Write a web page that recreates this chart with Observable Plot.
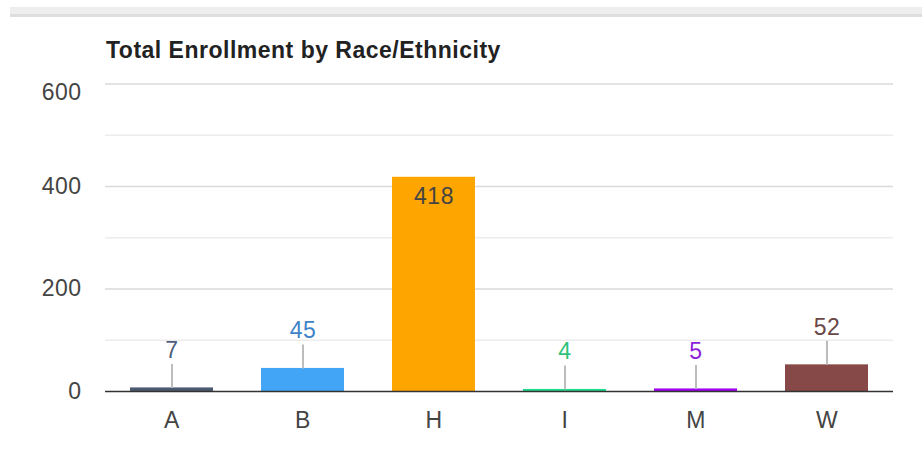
<!DOCTYPE html>
<html>
<head>
<meta charset="utf-8">
<script src="https://cdn.jsdelivr.net/npm/d3@7"></script>
<script src="https://cdn.jsdelivr.net/npm/@observablehq/plot@0.6"></script>
<style>
  html, body { margin: 0; padding: 0; background: #fff; }
  #wrap { position: relative; width: 922px; height: 450px; overflow: hidden; font-family: "Liberation Sans", Arial, sans-serif; }
  #band { position: absolute; left: 10px; top: 7px; right: 0; height: 10px; background: linear-gradient(#eeeeee 0 70%, #dedede 70% 100%); }
  #title { position: absolute; left: 106px; top: 37px; font-size: 23px; letter-spacing: 0.5px; font-weight: bold; color: #222; white-space: nowrap; line-height: 26px; }
</style>
</head>
<body>
<div id="wrap">
  <div id="band"></div>
  <div id="chart"></div>
  <div id="title">Total Enrollment by Race/Ethnicity</div>
</div>
<script>
const categories = ["A", "B", "H", "I", "M", "W"];
const values = [7, 45, 418, 4, 5, 52];
const barColors = ["#4b5a70", "#42a5f5", "#ffa500", "#1fdc8c", "#a100f2", "#874848"];
const labelColors = ["#4f5f7d", "#3f84c8", "#444444", "#2ec27a", "#8e1ed8", "#6a4646"];
const majorTicks = [0, 200, 400, 600];
const minorTicks = [100, 300, 500];

const data = categories.map((c, i) => ({cat: c, value: values[i], bar: barColors[i], label: labelColors[i]}));
const outside = data.filter(d => d.value < 400);
const inside = data.filter(d => d.value >= 400);

const stem = {
  draw(context) {
    context.moveTo(0, 0);
    context.lineTo(0, -24);
  }
};

const chart = Plot.plot({
  width: 922,
  height: 450,
  marginLeft: 105,
  marginRight: 29,
  marginTop: 83.5,
  marginBottom: 59,
  style: {fontFamily: "'Liberation Sans', Arial, sans-serif", fontSize: "23px", letterSpacing: "0.5px", background: "transparent"},
  x: {domain: categories, paddingInner: 0.368, paddingOuter: 0.184, label: null},
  y: {domain: [0, 600], label: null},
  color: {type: "identity"},
  marks: [
    Plot.ruleY(minorTicks, {stroke: "#ececec", strokeWidth: 1.5}),
    Plot.ruleY(majorTicks.filter(t => t > 0), {stroke: "#dadada", strokeWidth: 1.5}),
    Plot.barY(data, {x: "cat", y: "value", fill: "bar"}),
    Plot.ruleY([0], {stroke: "#333", strokeWidth: 1.5}),
    Plot.dot(outside, {x: "cat", y: "value", symbol: stem, fill: "none", stroke: "#bdbdbd", strokeWidth: 2, r: 1}),
    Plot.text(outside, {x: "cat", y: "value", text: d => String(d.value), fill: "label", lineAnchor: "bottom", dy: -30, fontSize: 23}),
    Plot.text(inside, {x: "cat", y: "value", text: d => String(d.value), fill: "label", lineAnchor: "top", dy: 10, fontSize: 23}),
    Plot.axisX({tickSize: 0, tickPadding: 20, fontSize: 23, fill: "#444", label: null}),
    Plot.axisY({ticks: majorTicks.filter(t => t < 600), tickSize: 0, tickPadding: 24, fontSize: 23, fill: "#444", label: null}),
    Plot.axisY({ticks: [600], tickSize: 0, tickPadding: 24, fontSize: 23, fill: "#444", label: null, dy: 9})
  ]
});
document.getElementById("chart").appendChild(chart);
</script>
</body>
</html>
